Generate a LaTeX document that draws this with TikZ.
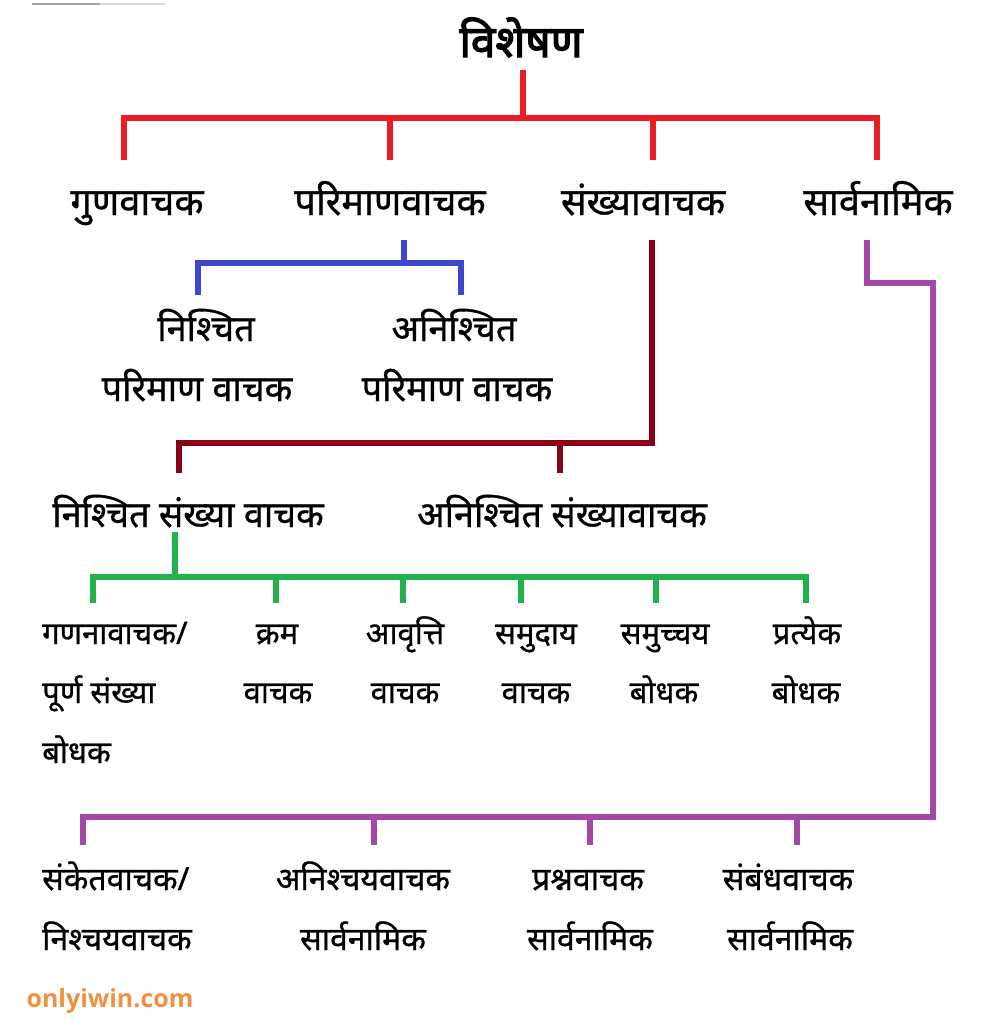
\documentclass[tikz,border=0pt]{standalone}
\usepackage{fontspec}
\newfontfamily\dev[Script=Devanagari, FakeBold=0.8]{Noto Sans}
\newfontfamily\devb[Script=Devanagari, FakeBold=3]{Noto Sans}
\newfontfamily\wm{Open Sans}
\definecolor{cR}{HTML}{ED1C24}
\definecolor{cB}{HTML}{3F48CC}
\definecolor{cM}{HTML}{880015}
\definecolor{cG}{HTML}{22B14C}
\definecolor{cP}{HTML}{A349A4}
\definecolor{cO}{HTML}{F0913F}
\tikzset{
  lbl/.style={inner sep=0pt, anchor=base, font=\dev\fontsize{31}{36}\selectfont},
  lbll/.style={lbl, anchor=base west},
  mid/.style={lbl, font=\dev\fontsize{36}{40}\selectfont},
  bot/.style={lbl, font=\dev\fontsize{32}{36}\selectfont},
  botl/.style={bot, anchor=base west},
  lvl/.style={lbl, font=\dev\fontsize{38}{42}\selectfont},
  ttl/.style={lbl, font=\devb\fontsize{44}{48}\selectfont},
  conn/.style={line width=6pt, line join=miter, line cap=butt},
}
\begin{document}
\begin{tikzpicture}[x=1pt,y=-1pt]
\useasboundingbox (0,0) rectangle (1000,1034);
\fill[white] (0,0) rectangle (1000,1034);
\draw[gray!70, line width=1.2pt] (32,4) -- (100,4);
\draw[gray!30, line width=1.2pt] (100,4) -- (165,4);

% title and level 2
\node[ttl] (root) at (521,57) {विशेषण};
\node[lvl] (guna) at (137,215) {गुणवाचक};
\node[lvl] (pari) at (390,215) {परिमाणवाचक};
\node[lvl] (sankh) at (643,215) {संख्यावाचक};
\node[lvl] (sarv) at (878,215) {सार्वनामिक};

% red connectors
\coordinate (rtop) at (523,70);
\coordinate (rbus) at (523,118);
\coordinate (r1) at (124,160);
\coordinate (r2) at (390,160);
\coordinate (r3) at (653,160);
\coordinate (r4) at (877,160);
\draw[conn, cR] (rtop) -- (rbus);
\draw[conn, cR] (r1) |- (rbus) -| (r4);
\draw[conn, cR] (r2) -- (r2 |- rbus);
\draw[conn, cR] (r3) -- (r3 |- rbus);

% parimaan children
\node[mid] (pn1) at (206,341) {निश्चित};
\node[mid] (pn2) at (197,401) {परिमाण वाचक};
\node[mid] (pa1) at (454,341) {अनिश्चित};
\node[mid] (pa2) at (457,401) {परिमाण वाचक};
\coordinate (btop) at (404,240);
\coordinate (bbus) at (404,263);
\coordinate (b1) at (198,295);
\coordinate (b2) at (461,295);
\draw[conn, cB] (btop) -- (bbus);
\draw[conn, cB] (b1) |- (bbus) -| (b2);

% sankhya children
\node[mid] (sn) at (188,527) {निश्चित संख्या वाचक};
\node[mid] (sa) at (562,527) {अनिश्चित संख्यावाचक};
\coordinate (mtop) at (652,240);
\coordinate (mbus) at (652,443);
\coordinate (m1) at (179,473);
\coordinate (m2) at (560,473);
\draw[conn, cM] (mtop) -- (mbus) -| (m1);
\draw[conn, cM] (m2) -- (m2 |- mbus);

% nishchit sankhya children
\node[lbll] (g1a) at (42,644) {गणनावाचक/};
\node[lbll] (g1b) at (42,703) {पूर्ण संख्या};
\node[lbll] (g1c) at (42,763) {बोधक};
\node[lbl] (g2a) at (277,644) {क्रम};
\node[lbl] (g2b) at (278,703) {वाचक};
\node[lbl] (g3a) at (405,644) {आवृत्ति};
\node[lbl] (g3b) at (405,703) {वाचक};
\node[lbl] (g4a) at (536,644) {समुदाय};
\node[lbl] (g4b) at (536,703) {वाचक};
\node[lbl] (g5a) at (665,644) {समुच्चय};
\node[lbl] (g5b) at (664,703) {बोधक};
\node[lbl] (g6a) at (807,644) {प्रत्येक};
\node[lbl] (g6b) at (806,703) {बोधक};
\coordinate (gtop) at (175,532);
\coordinate (gbus) at (175,577);
\coordinate (gg1) at (93,603);
\coordinate (gg2) at (276,603);
\coordinate (gg3) at (403,603);
\coordinate (gg4) at (521,603);
\coordinate (gg5) at (656,603);
\coordinate (gg6) at (806,603);
\draw[conn, cG] (gtop) -- (gbus);
\draw[conn, cG] (gg1) |- (gbus) -| (gg6);
\foreach \c in {gg2,gg3,gg4,gg5} \draw[conn, cG] (\c) -- (\c |- gbus);

% sarvanamik children
\node[botl] (p1a) at (42,890) {संकेतवाचक/};
\node[botl] (p1b) at (42,950) {निश्चयवाचक};
\node[bot] (p2a) at (363,890) {अनिश्चयवाचक};
\node[bot] (p2b) at (363,950) {सार्वनामिक};
\node[bot] (p3a) at (588,890) {प्रश्नवाचक};
\node[bot] (p3b) at (590,950) {सार्वनामिक};
\node[bot] (p4a) at (788,890) {संबंधवाचक};
\node[bot] (p4b) at (790,950) {सार्वनामिक};
\coordinate (ptop) at (867,240);
\coordinate (pk1) at (867,283);
\coordinate (pk2) at (933,283);
\coordinate (pbus) at (933,817);
\coordinate (pp1) at (83,845);
\coordinate (pp2) at (374,845);
\coordinate (pp3) at (590,845);
\coordinate (pp4) at (797,845);
\draw[conn, cP] (ptop) -- (pk1) -- (pk2) -- (pbus) -| (pp1);
\foreach \c in {pp2,pp3,pp4} \draw[conn, cP] (\c) -- (\c |- pbus);

\node[inner sep=0pt, text=cO, font=\wm\bfseries\fontsize{25}{30}\selectfont] (wmk) at (110,1001) {onlyiwin.com};
\end{tikzpicture}
\end{document}
